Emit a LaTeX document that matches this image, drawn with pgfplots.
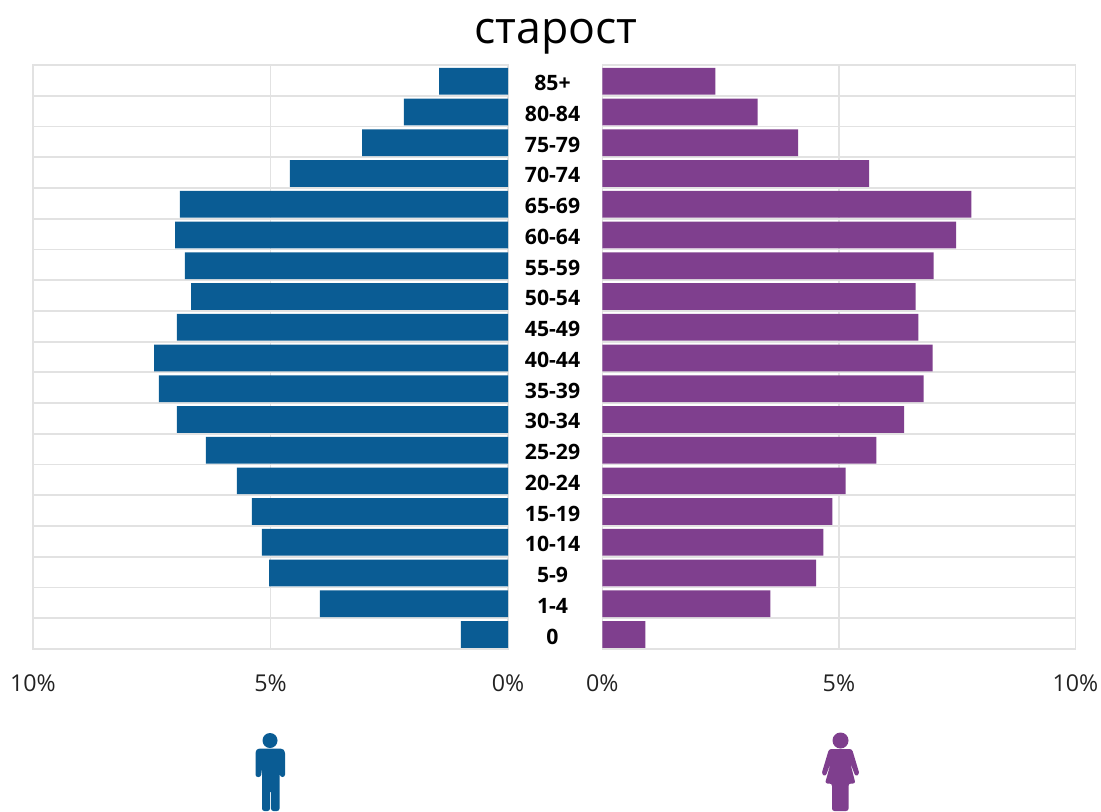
\documentclass[border=0pt]{standalone}
\usepackage{fontspec}
\setmainfont{Open Sans}
\usepackage{pgfplots}
\pgfplotsset{compat=1.18}
\definecolor{mblue}{HTML}{0A5C94}
\definecolor{fpurple}{HTML}{7F3F8E}
\definecolor{gridc}{HTML}{E2E2E2}
\definecolor{txt}{HTML}{222222}
\pgfplotsset{pyr/.style={
  xbar, scale only axis, clip=false,
  ymin=-0.5, ymax=18.5, xmin=0, xmax=10,
  height=292pt,
  bar width=0.87, bar shift=-0.03,
  axis line style={draw=gridc,line width=0.9pt},
  xtick={0,5,10},
  xticklabels={0\%,5\%,10\%},
  xtick style={draw=none},
  ytick style={draw=none},
  minor tick style={draw=none},
  minor ytick={-0.5,0.5,1.5,2.5,3.5,4.5,5.5,6.5,7.5,8.5,9.5,10.5,11.5,12.5,13.5,14.5,15.5,16.5,17.5},
  ytick={0,...,18},
  yticklabels={},
  xmajorgrids, yminorgrids,
  grid style={draw=gridc,line width=0.9pt},
  minor grid style={draw=gridc,line width=0.9pt},
  tick label style={font=\fontsize{11.6}{13}\selectfont,text=txt},
  xticklabel style={yshift=-9.5pt},
  /pgf/number format/assume math mode=true,
}}
\begin{document}
\begin{tikzpicture}[x=0.5pt,y=-0.5pt]
\path[use as bounding box] (0,0) rectangle (1101,812);
\node[anchor=base,font=\fontsize{22.3}{26}\selectfont,text=black] at (556,44) {старост};
\begin{axis}[pyr, at={(16.5pt,-324.5pt)}, anchor=south west, width=237.5pt,
  x dir=reverse,
  ytick pos=right,
  yticklabels={0,1-4,5-9,10-14,15-19,20-24,25-29,30-34,35-39,40-44,45-49,50-54,55-59,60-64,65-69,70-74,75-79,80-84,85+},
  yticklabel style={font=\fontsize{10.6}{12}\selectfont\bfseries,text=black,anchor=center,xshift=18pt,yshift=-1.4pt},
]
\addplot[fill=mblue,draw=none] coordinates {
(0.99,0)(3.96,1)(5.03,2)(5.18,3)(5.39,4)(5.71,5)(6.36,6)(6.97,7)(7.35,8)(7.45,9)
(6.97,10)(6.67,11)(6.80,12)(7.01,13)(6.91,14)(4.59,15)(3.07,16)(2.19,17)(1.45,18)};
\end{axis}
\begin{axis}[pyr, at={(301.2pt,-324.5pt)}, anchor=south west, width=236.5pt,
  ytick pos=left,
]
\addplot[fill=fpurple,draw=none] coordinates {
(0.91,0)(3.55,1)(4.52,2)(4.67,3)(4.86,4)(5.14,5)(5.79,6)(6.38,7)(6.79,8)(6.98,9)
(6.68,10)(6.62,11)(7.00,12)(7.48,13)(7.80,14)(5.64,15)(4.14,16)(3.28,17)(2.39,18)};
\end{axis}
% male icon
\fill[mblue] (270,740.5) circle (7.5);
\fill[mblue,rounded corners=1.2pt] (255.5,751) -- (258,748.5) -- (282,748.5) -- (285,751) -- (285,777) -- (280,777) -- (279.5,768) -- (279.5,811) -- (271,811) -- (271,790) -- (270,790) -- (270,811) -- (262,811) -- (262,768) -- (261,777) -- (255.5,777) -- cycle;
% female icon
\fill[fpurple] (840.5,740.5) circle (8);
\fill[fpurple,rounded corners=1.2pt] (829,749) -- (852,749) -- (859.5,774) -- (855.5,776.5) -- (850,762) -- (855.5,783.5) -- (848.5,783.5) -- (848.5,811) -- (832,811) -- (832,783.5) -- (825,783.5) -- (831,762) -- (825.5,776.5) -- (821.5,774) -- cycle;
\end{tikzpicture}
\end{document}
